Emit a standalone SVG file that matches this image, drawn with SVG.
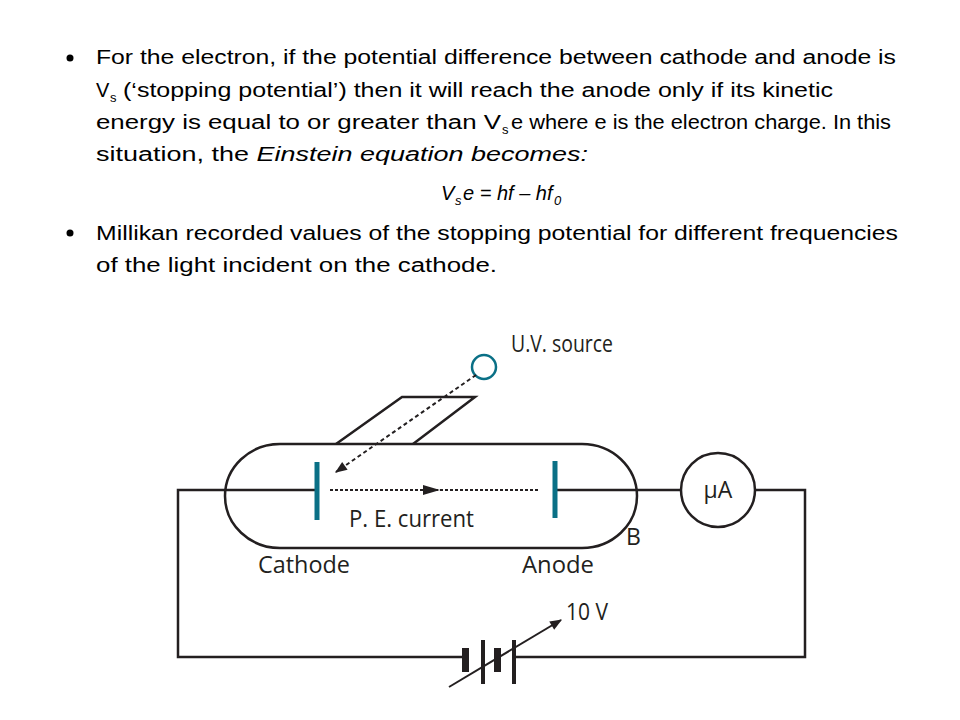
<svg xmlns="http://www.w3.org/2000/svg" width="960" height="720" viewBox="0 0 960 720">
<style>
.t{font-family:"Liberation Sans",Arial,sans-serif;font-size:20px;fill:#000}
.s{font-size:13px}
.d{font-family:"Open Sans","Liberation Sans",sans-serif;font-size:23px;fill:#231f20}
.w{fill:none;stroke:#231f20;stroke-width:2.5}
.p{stroke:#0a7086;stroke-width:5}
</style>
<defs>
<marker id="ah2" viewBox="0 0 10 10" refX="9" refY="5" markerWidth="16" markerHeight="12" orient="auto" markerUnits="userSpaceOnUse"><path d="M0,1 L10,5 L0,9 z" fill="#231f20"/></marker>
</defs>
<rect width="960" height="720" fill="#fff"/>
<g id="text">
<circle cx="70" cy="58" r="3.5"/>
<text class="t" x="96" y="64" textLength="800" lengthAdjust="spacingAndGlyphs">For the electron, if the potential difference between cathode and anode is</text>
<text class="t" x="96" y="97">V</text><text class="t s" x="110" y="102">s</text>
<text class="t" x="123" y="97" textLength="710" lengthAdjust="spacingAndGlyphs">(‘stopping potential’) then it will reach the anode only if its kinetic</text>
<text class="t" x="96" y="129" textLength="405" lengthAdjust="spacingAndGlyphs">energy is equal to or greater than V</text><text class="t s" x="502" y="134">s</text>
<text class="t" x="511" y="129" textLength="380" lengthAdjust="spacingAndGlyphs">e where e is the electron charge. In this</text>
<text class="t" x="96" y="161" textLength="492" lengthAdjust="spacingAndGlyphs">situation, the <tspan font-style="italic">Einstein equation becomes:</tspan></text>
<text class="t" x="441" y="200" font-style="italic">V</text><text class="t s" x="455" y="205" font-style="italic">s</text>
<text class="t" x="463" y="200" font-style="italic">e = hf – hf</text><text class="t s" x="554" y="205" font-style="italic">0</text>
<circle cx="70" cy="233" r="3.5"/>
<text class="t" x="96" y="240" textLength="802" lengthAdjust="spacingAndGlyphs">Millikan recorded values of the stopping potential for different frequencies</text>
<text class="t" x="96" y="272" textLength="401" lengthAdjust="spacingAndGlyphs">of the light incident on the cathode.</text>
</g>
<g id="circuit">
<polyline class="w" points="226,490 178,490 178,657 465,657"/>
<polyline class="w" points="514,657 805,657 805,490 755,490"/>
<line class="w" x1="636" y1="490" x2="681" y2="490"/>
<line class="w" x1="317" y1="490" x2="226" y2="490"/>
<line class="w" x1="555" y1="490" x2="636" y2="490"/>
</g>
<g id="tube">
<rect class="w" x="225" y="444" width="412" height="104" rx="55" ry="52"/>
<polyline class="w" stroke-width="2" points="336,444 402,397 475,397 413,444"/>
<line class="p" x1="317" y1="462" x2="317" y2="520"/>
<line class="p" x1="555" y1="461" x2="555" y2="518"/>
</g>
<g id="uv">
<circle cx="484" cy="367" r="12" fill="none" stroke="#0a7086" stroke-width="2.5"/>
<text class="d" x="511" y="352" textLength="102" lengthAdjust="spacingAndGlyphs">U.V. source</text>
</g>
<g id="ammeter">
<circle class="w" cx="718" cy="490" r="37"/>
<text class="d" x="718" y="498" text-anchor="middle">µA</text>
</g>
<g id="battery" fill="#231f20">
<rect x="462" y="648" width="7" height="24"/>
<rect x="481" y="640" width="4" height="44"/>
<rect x="494" y="648" width="7" height="24"/>
<rect x="512" y="640" width="4" height="44"/>
</g>
<g id="connectors">
<line stroke="#231f20" stroke-width="2" stroke-dasharray="4,3" x1="476" y1="375" x2="336" y2="472" marker-end="url(#ah2)"/>
<line stroke="#231f20" stroke-width="2" stroke-dasharray="3,2" x1="330" y1="490" x2="540" y2="490"/>
<path d="M423,485 L440,490 L423,495 z" fill="#231f20"/>
<line stroke="#231f20" stroke-width="2" x1="449" y1="687" x2="561" y2="620" marker-end="url(#ah2)"/>
</g>
<g id="labels">
<text class="d" x="349" y="527" textLength="125" lengthAdjust="spacingAndGlyphs">P. E. current</text>
<text class="d" x="626" y="545">B</text>
<text class="d" x="258" y="573" textLength="92" lengthAdjust="spacingAndGlyphs">Cathode</text>
<text class="d" x="522" y="573" textLength="72" lengthAdjust="spacingAndGlyphs">Anode</text>
<text class="d" x="566" y="620" textLength="42" lengthAdjust="spacingAndGlyphs">10 V</text>
</g>
</svg>
